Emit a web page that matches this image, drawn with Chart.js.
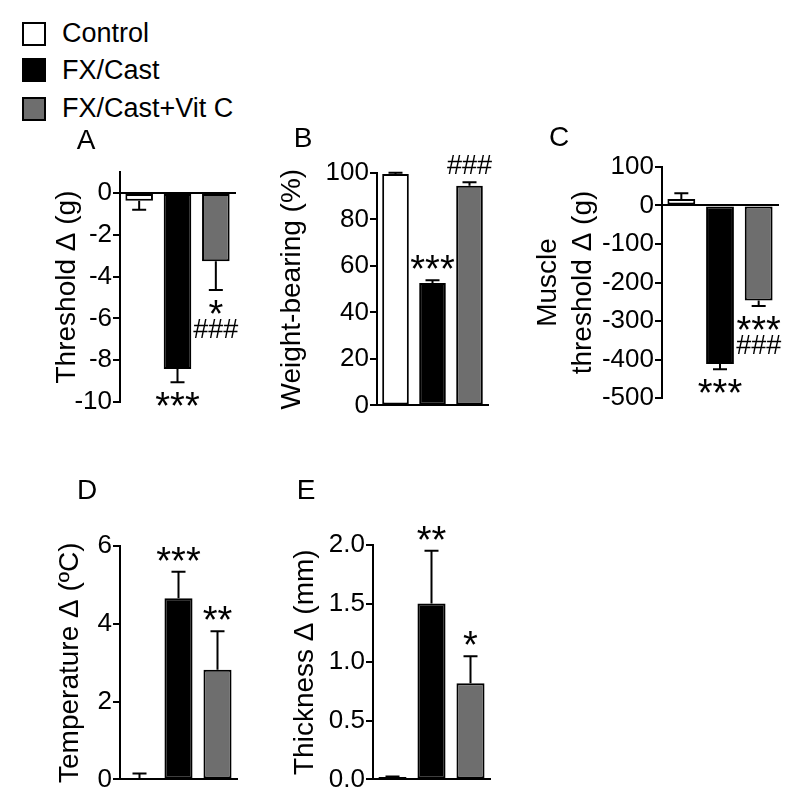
<!DOCTYPE html>
<html>
<head>
<meta charset="utf-8">
<script src="https://cdn.jsdelivr.net/npm/chart.js@4.4.1/dist/chart.umd.min.js"></script>
<style>
  body { margin: 0; background: #fff; font-family: "Liberation Sans", Arial, sans-serif; }
  #page { position: relative; width: 800px; height: 800px; overflow: hidden; }
  canvas { position: absolute; }
  .key { position: absolute; left: 22px; width: 24px; height: 24px; box-sizing: border-box; border: 2px solid #000; }
  .keyText { position: absolute; left: 62px; font-size: 27px; line-height: 27px; color: #000; }
  .letter { position: absolute; font-size: 28px; line-height: 28px; color: #000; transform: translate(-50%, -50%); }
</style>
</head>
<body>
<div id="page"></div>
<script>
const FONT = '"Liberation Sans", Arial, sans-serif';

// groups shared by all panels
const groups = ["Control", "FX/Cast", "FX/Cast+Vit C"];
const groupColors = ["#ffffff", "#000000", "#6e6e6e"];

// A - Threshold change (g)
const meansA = [-0.37, -8.42, -3.27];
const semA = [0.43, 0.64, 1.37];
const marksA = ["", "***", "*\n###"];
const ticksA = [0, -2, -4, -6, -8, -10];
const tickLabelsA = ["0", "-2", "-4", "-6", "-8", "-10"];

// B - Weight-bearing (%)
const meansB = [99.6, 52.7, 94.5];
const semB = [0.5, 1.1, 1.5];
const marksB = ["", "***", "###"];
const ticksB = [0, 20, 40, 60, 80, 100];
const tickLabelsB = ["0", "20", "40", "60", "80", "100"];

// C - Muscle threshold change (g)
const meansC = [17, -412, -247];
const semC = [15, 13, 14];
const marksC = ["", "***", "***\n###"];
const ticksC = [100, 0, -100, -200, -300, -400, -500];
const tickLabelsC = ["100", "0", "-100", "-200", "-300", "-400", "-500"];

// D - Temperature change (ºC)
const meansD = [0.03, 4.66, 2.82];
const semD = [0.12, 0.68, 0.99];
const marksD = ["", "***", "**"];
const ticksD = [0, 2, 4, 6];
const tickLabelsD = ["0", "2", "4", "6"];

// E - Thickness change (mm)
const meansE = [0.02, 1.50, 0.82];
const semE = [0.005, 0.45, 0.23];
const marksE = ["", "**", "*"];
const ticksE = [0, 0.5, 1.0, 1.5, 2.0];
const tickLabelsE = ["0.0", "0.5", "1.0", "1.5", "2.0"];

// layout of each panel (plot box in page pixels)
const panels = [
  { id: "A", means: meansA, sem: semA, marks: marksA, ticks: ticksA, labels: tickLabelsA,
    min: -10, max: 1, title: "Threshold \u0394 (g)",
    left: 50, axisW: 70, plotW: 115, top: 172, plotH: 230, padT: 20, padB: 20 },
  { id: "B", means: meansB, sem: semB, marks: marksB, ticks: ticksB, labels: tickLabelsB,
    min: 0, max: 100, title: "Weight-bearing (%)",
    left: 275, axisW: 102, plotW: 111, top: 173, plotH: 233, padT: 40, padB: 16 },
  { id: "C", means: meansC, sem: semC, marks: marksC, ticks: ticksC, labels: tickLabelsC,
    min: -500, max: 100, title: ["Muscle", "threshold \u0394 (g)"],
    left: 531, axisW: 131, plotW: 116, top: 167, plotH: 231, padT: 20, padB: 20 },
  { id: "D", means: meansD, sem: semD, marks: marksD, ticks: ticksD, labels: tickLabelsD,
    min: 0, max: 6, title: "Temperature \u0394 (\u00baC)",
    left: 53, axisW: 67, plotW: 117, top: 546, plotH: 234, padT: 40, padB: 16 },
  { id: "E", means: meansE, sem: semE, marks: marksE, ticks: ticksE, labels: tickLabelsE,
    min: 0, max: 2, title: "Thickness \u0394 (mm)",
    left: 288, axisW: 85, plotW: 117, top: 545, plotH: 235, padT: 40, padB: 16 }
];

const letterPos = { A: [86, 140], B: [303, 138], C: [559, 137], D: [87, 490], E: [306, 490] };

const page = document.getElementById("page");

// legend
groups.forEach(function (g, i) {
  const cy = [33.5, 70, 108.5][i];
  const box = document.createElement("div");
  box.className = "key";
  box.style.top = (cy - 12) + "px";
  box.style.background = groupColors[i];
  page.appendChild(box);
  const t = document.createElement("div");
  t.className = "keyText";
  t.style.top = (cy - 13.5) + "px";
  t.textContent = g;
  page.appendChild(t);
});

// draw text so its ink is centred on (x, y)
function inkText(ctx, text, x, y) {
  const m = ctx.measureText(text);
  const asc = m.actualBoundingBoxAscent, desc = m.actualBoundingBoxDescent;
  ctx.fillText(text, x, y + (asc - desc) / 2);
}

// error bars and significance marks
const barExtras = {
  id: "barExtras",
  afterDatasetsDraw(chart, args, opts) {
    const ctx = chart.ctx;
    const yScale = chart.scales.y;
    const bars = chart.getDatasetMeta(0).data;
    ctx.save();
    ctx.strokeStyle = "#000";
    ctx.fillStyle = "#000";
    ctx.lineWidth = 2;
    ctx.textAlign = "center";
    ctx.textBaseline = "alphabetic";
    bars.forEach(function (bar, i) {
      const m = opts.means[i], e = opts.sem[i];
      const dir = m < 0 ? -1 : 1;
      const yEnd = yScale.getPixelForValue(m + dir * e);
      ctx.beginPath();
      ctx.moveTo(bar.x, bar.y);
      ctx.lineTo(bar.x, yEnd);
      ctx.moveTo(bar.x - 7, yEnd);
      ctx.lineTo(bar.x + 7, yEnd);
      ctx.stroke();

      const lines = opts.marks[i] ? opts.marks[i].split("\n") : [];
      lines.forEach(function (t, k) {
        ctx.font = t.charAt(0) === "*" ? "38px " + FONT : "27px " + FONT;
        const cy = dir < 0 ? yEnd + 17 + k * 22 : yEnd - 18 - (lines.length - 1 - k) * 22;
        inkText(ctx, t, bar.x, cy);
      });
    });
    ctx.restore();
  }
};

panels.forEach(function (p) {
  const padR = 28;
  const canvas = document.createElement("canvas");
  canvas.width = p.axisW + p.plotW + padR;
  canvas.height = p.padT + p.plotH + p.padB;
  canvas.style.left = p.left + "px";
  canvas.style.top = (p.top - p.padT) + "px";
  page.appendChild(canvas);

  const letter = document.createElement("div");
  letter.className = "letter";
  letter.style.left = letterPos[p.id][0] + "px";
  letter.style.top = letterPos[p.id][1] + "px";
  letter.textContent = p.id;
  page.appendChild(letter);

  new Chart(canvas.getContext("2d"), {
    type: "bar",
    data: {
      labels: groups,
      datasets: [{
        data: p.means,
        backgroundColor: groupColors,
        borderColor: "#000",
        borderWidth: 2,
        borderSkipped: false,
        barPercentage: 0.72,
        categoryPercentage: 1.0
      }]
    },
    options: {
      responsive: false,
      animation: false,
      devicePixelRatio: 1,
      layout: { padding: { left: 0, top: p.padT, right: padR, bottom: p.padB } },
      plugins: {
        legend: { display: false },
        tooltip: { enabled: false },
        barExtras: { means: p.means, sem: p.sem, marks: p.marks }
      },
      scales: {
        x: {
          position: { y: 0 },
          grid: { display: false },
          ticks: { display: false },
          border: { color: "#000", width: 2 }
        },
        y: {
          min: p.min,
          max: p.max,
          afterBuildTicks: function (s) { s.ticks = p.ticks.map(function (v) { return { value: v }; }); },
          afterFit: function (s) { s.width = p.axisW; },
          ticks: {
            color: "#000",
            padding: 1,
            font: { size: 26, family: FONT },
            callback: function (v, i) { return p.labels[i]; }
          },
          grid: { drawOnChartArea: false, tickLength: 7, color: "#000", lineWidth: 2 },
          border: { color: "#000", width: 2 },
          title: {
            display: true,
            text: p.title,
            color: "#000",
            padding: 0,
            font: { size: 28, family: FONT, lineHeight: 1.25 }
          }
        }
      }
    },
    plugins: [barExtras]
  });
});
</script>
</body>
</html>
